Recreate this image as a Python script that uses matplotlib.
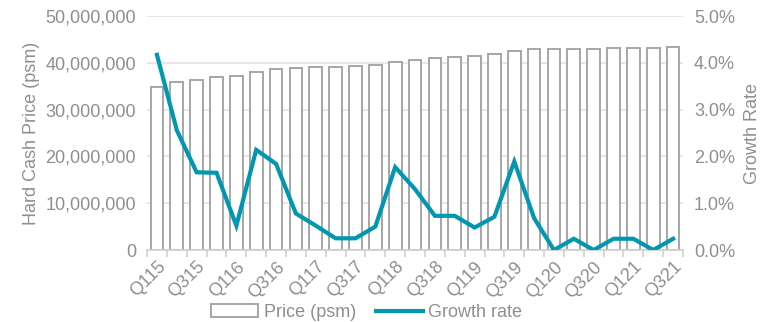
import matplotlib.pyplot as plt
from matplotlib.ticker import FuncFormatter, MultipleLocator

plt.rcParams['font.family'] = ['Liberation Sans', 'DejaVu Sans']

# quarters Q1 2015 .. Q3 2021
quarters = ['Q115', 'Q215', 'Q315', 'Q415', 'Q116', 'Q216', 'Q316', 'Q416',
            'Q117', 'Q217', 'Q317', 'Q417', 'Q118', 'Q218', 'Q318', 'Q418',
            'Q119', 'Q219', 'Q319', 'Q419', 'Q120', 'Q220', 'Q320', 'Q420',
            'Q121', 'Q221', 'Q321']
price = [34.8, 35.8, 36.3, 36.9, 37.1, 38.0, 38.6, 38.9, 39.1, 39.2, 39.3,
         39.5, 40.2, 40.7, 41.0, 41.3, 41.5, 41.9, 42.6, 42.9, 42.9, 43.0,
         43.0, 43.2, 43.2, 43.2, 43.3]  # millions
price = [p * 1e6 for p in price]
growth = [4.17, 2.56, 1.66, 1.65, 0.52, 2.14, 1.84, 0.78, 0.52, 0.25, 0.25,
          0.50, 1.77, 1.30, 0.73, 0.73, 0.48, 0.71, 1.89, 0.68, 0.0, 0.24,
          0.0, 0.24, 0.24, 0.0, 0.24]  # percent

grey = '#8f8f8f'
teal = '#0097b0'
fs = 13

fig = plt.figure(figsize=(7.67, 3.22), dpi=100)
ax = fig.add_axes([0.1917, 0.2236, 0.6988, 0.7267])
ax2 = ax.twinx()

x = range(len(quarters))
bars = ax.bar(x, price, width=0.64, facecolor='white', edgecolor='#a6a6a6',
              linewidth=1.4, label='Price (psm)', zorder=2)
line, = ax2.plot(x, growth, color=teal, lw=3, label='Growth rate',
                 solid_joinstyle='miter')

ax.set_xlim(-0.5, len(quarters) - 0.5)
ax.set_ylim(0, 50e6)
ax2.set_ylim(0, 5.0)
ax.yaxis.set_major_locator(MultipleLocator(10e6))
ax2.yaxis.set_major_locator(MultipleLocator(1.0))
ax.yaxis.set_major_formatter(FuncFormatter(lambda v, p: f'{v:,.0f}'))
ax2.yaxis.set_major_formatter(FuncFormatter(lambda v, p: f'{v:.1f}%'))

ax.grid(axis='y', color='#e3e3e3', lw=1.2, zorder=0)
ax.set_axisbelow(True)

for a in (ax, ax2):
    for s in a.spines.values():
        s.set_visible(False)
ax.spines['bottom'].set_visible(True)
ax.spines['bottom'].set_color('#d0d0d0')
ax.spines['bottom'].set_linewidth(1.2)

# category ticks sit between the bars, labels every other quarter
ax.set_xticks([i - 0.5 for i in range(len(quarters) + 1)], minor=True)
ax.set_xticks(list(range(0, len(quarters), 2)))
ax.set_xticklabels(quarters[::2], rotation=45, ha='right',
                   rotation_mode='anchor')
ax.tick_params(axis='x', which='major', length=0, pad=6, labelsize=fs,
               labelcolor=grey)
ax.tick_params(axis='x', which='minor', length=5, color='#d0d0d0', width=1.2)
ax.tick_params(axis='y', length=0, labelsize=fs, labelcolor=grey, pad=8)
ax2.tick_params(axis='y', length=0, labelsize=fs, labelcolor=grey, pad=8)

ax.set_ylabel('Hard Cash Price (psm)', color=grey, fontsize=fs, labelpad=4)
ax2.set_ylabel('Growth Rate', color=grey, fontsize=fs, labelpad=6)

fig.legend(handles=[bars, line], loc='lower center',
           bbox_to_anchor=(0.478, -0.047), ncol=2, frameon=False,
           fontsize=fs, labelcolor=grey, handlelength=2.6,
           handletextpad=0.3, columnspacing=1.1)

plt.savefig('out.png', dpi=100)
